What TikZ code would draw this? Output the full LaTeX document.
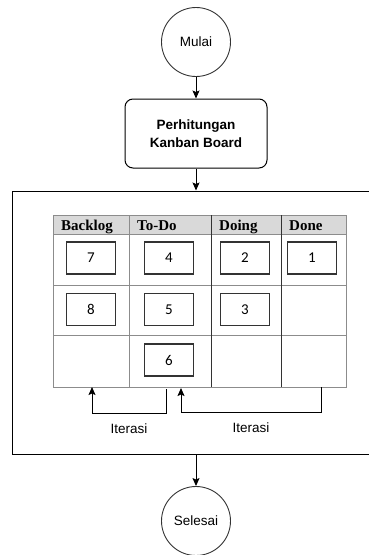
\documentclass[tikz,border=0pt]{standalone}
\usepackage{fontspec}
\setmainfont{Liberation Sans}
\newfontfamily\headfont{Liberation Serif}
\newfontfamily\cardfont{Carlito}
\usetikzlibrary{positioning, arrows.meta}

\begin{document}
\begin{tikzpicture}[
    x=1pt, y=-1pt,
    terminal/.style={circle, draw=black!80, line width=0.9pt, minimum size=69pt,
                     inner sep=0pt, font=\fontsize{13.5}{16}\selectfont},
    process/.style={rectangle, rounded corners=8pt, draw=black, line width=1pt,
                    minimum width=142pt, minimum height=69pt, align=center,
                    font=\fontsize{13.5}{18}\selectfont\bfseries},
    bigframe/.style={rectangle, draw=black, line width=1pt, minimum width=368pt,
                     minimum height=263pt},
    card/.style={rectangle, draw=black!80, line width=1.1pt, minimum width=49pt,
                 minimum height=32pt, font=\cardfont\fontsize{15}{17}\selectfont},
    head/.style={anchor=base west, inner sep=0pt, font=\headfont\fontsize{15}{17}\selectfont\bfseries},
    gridline/.style={draw=black!45, line width=0.8pt},
    arrow/.style={-{Stealth[length=8pt, width=7pt, inset=1.5pt]}, line width=1pt},
    itertext/.style={font=\fontsize{13.5}{16}\selectfont}
]
    \useasboundingbox (0,0) rectangle (368,555);

    % Start
    \node[terminal] (start) at (196,42) {Mulai};

    % Kanban calculation
    \node[process] (calc) at (196,133.5) {Perhitungan\\Kanban Board};
    \draw[arrow] (start) -- (calc);

    % Board frame
    \node[bigframe] (board) at (196,322.5) {};
    \draw[arrow] (calc) -- (board);

    % Table header
    \fill[black!15] (53,215) rectangle (346,234);

    % Table grid
    \draw[gridline] (53,215) rectangle (346,387);
    \foreach \y in {234,285,335}
        \draw[gridline] (53,\y) -- (346,\y);
    \draw[gridline] (129,215) -- (129,387);
    \draw[gridline, draw=black!80] (211,215) -- (211,387);
    \draw[gridline, draw=black!80] (281,215) -- (281,387);

    % Column titles
    \node[head] (hBacklog) at (61,230) {Backlog};
    \node[head] (hTodo) at (137,230) {To-Do};
    \node[head] (hDoing) at (219,230) {Doing};
    \node[head] (hDone) at (289,230) {Done};

    % Cards
    \node[card] (c7) at (91,258) {7};
    \node[card] (c4) at (169,258) {4};
    \node[card] (c2) at (245,258) {2};
    \node[card] (c1) at (312,258) {1};
    \node[card] (c8) at (91,309.5) {8};
    \node[card] (c5) at (169,309.5) {5};
    \node[card] (c3) at (245,309.5) {3};
    \node[card] (c6) at (169,360) {6};

    % Iteration loops
    \coordinate (itA) at (166,389);
    \coordinate (itB) at (92,387);
    \coordinate (itC) at (321,387);
    \coordinate (itD) at (181,388);
    \draw[arrow] (itA) -- ++(0,24) -| node[pos=0.25, below=7pt, itertext] {Iterasi} (itB);
    \draw[arrow] (itC) -- ++(0,25) -| node[pos=0.25, below=7pt, itertext] {Iterasi} (itD);

    % End
    \node[terminal] (finish) at (196,521) {Selesai};
    \draw[arrow] (board) -- (finish);

\end{tikzpicture}
\end{document}
